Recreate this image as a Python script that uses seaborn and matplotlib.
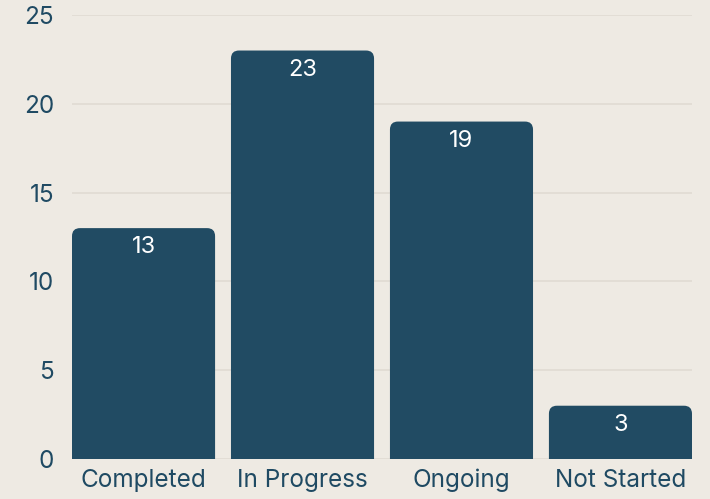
import matplotlib
matplotlib.use("Agg")
import matplotlib.pyplot as plt
import seaborn as sns
import pandas as pd
from matplotlib.patches import FancyBboxPatch

categories = ["Completed", "In Progress", "Ongoing", "Not Started"]
counts = [13, 23, 19, 3]
yticks = [0, 5, 10, 15, 20, 25]

BG = "#EEEAE3"
BAR = "#214B63"
TXT = "#1F4A63"
GRID = "#E0DBD3"

sns.set_theme(style="white")
plt.rcParams["font.family"] = ["Inter", "DejaVu Sans"]

df = pd.DataFrame({"status": categories, "count": counts})

fig = plt.figure(figsize=(7.10, 4.99), dpi=100, facecolor=BG)
ax = fig.add_axes([72/710, 40/499, 620/710, 444/499])
ax.set_facecolor(BG)

sns.barplot(data=df, x="status", y="count", color=BAR, width=0.9, saturation=1, ax=ax)

ax.set_xlim(-0.45, 3.45)
ax.set_ylim(0, 25)

# replace bars with rounded-top ones
rad_x = 0.05
aspect = (8/17.76) / rad_x
old = list(ax.patches)
for p in old:
    x, y0 = p.get_x(), p.get_y()
    w, h = p.get_width(), p.get_height()
    p.remove()
    fb = FancyBboxPatch((x, -1.0), w, h + 1.0,
                        boxstyle=f"round,pad=0,rounding_size={rad_x}",
                        mutation_aspect=aspect, facecolor=BAR, edgecolor="none",
                        zorder=2)
    ax.add_patch(fb)
    ax.annotate(f"{int(h)}", (x + w/2, h), xytext=(0, -6), textcoords="offset points",
                ha="center", va="top", color="white", fontsize=17, zorder=3)

ax.set_yticks(yticks)
ax.yaxis.grid(True, color=GRID, linewidth=1.2, zorder=0)
ax.set_axisbelow(True)
for s in ax.spines.values():
    s.set_visible(False)
ax.tick_params(axis="y", length=0, pad=13, labelsize=17.5, labelcolor=TXT)
ax.tick_params(axis="x", length=0, pad=7, labelsize=17.5, labelcolor=TXT)
ax.set_xlabel("")
ax.set_ylabel("")

fig.savefig("out.png", dpi=100, facecolor=BG)
